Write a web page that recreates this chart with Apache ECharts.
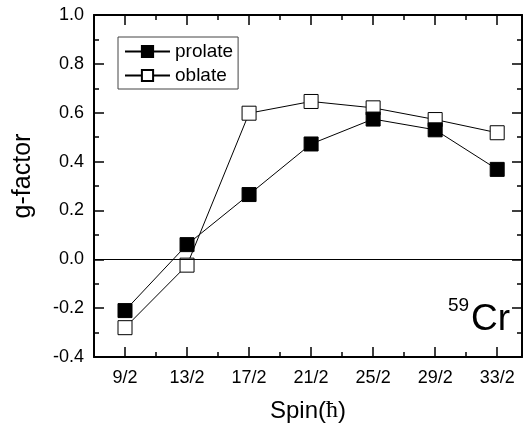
<!DOCTYPE html>
<html>
<head>
<meta charset="utf-8">
<script src="https://cdn.jsdelivr.net/npm/echarts@6/dist/echarts.min.js"></script>
<style>html,body{margin:0;padding:0;background:#fff}#c{width:523px;height:435px}</style>
</head>
<body>
<div id="c"></div>
<script>
const spinLabels = ['9/2', '13/2', '17/2', '21/2', '25/2', '29/2', '33/2'];
const prolate = [-0.21, 0.06, 0.265, 0.472, 0.574, 0.53, 0.368];
const oblate = [-0.28, -0.024, 0.598, 0.646, 0.62, 0.572, 0.518];
const yTicks = [-0.4, -0.2, 0.0, 0.2, 0.4, 0.6, 0.8, 1.0];

const spinVals = spinLabels.map(s => { const p = s.split('/'); return Number(p[0]) / Number(p[1]); });
const minorVals = spinVals.slice(0, -1).map(v => v + 1);
const labelOf = v => { const i = spinVals.findIndex(x => Math.abs(x - v) < 1e-6); return i >= 0 ? spinLabels[i] : ''; };

const FONT = '"Liberation Sans", Arial, sans-serif';
const black = '#000';

function xAx(pos, major, showLabel) {
  return {
    type: 'value', min: 3.5, max: 17.3, position: pos, gridIndex: 0,
    axisLine: { show: major, onZero: false, lineStyle: { color: black, width: 2 } },
    axisTick: { show: true, inside: true, length: major ? 10 : 5, customValues: major ? spinVals : minorVals, lineStyle: { color: black, width: 1.5 } },
    axisLabel: { show: showLabel, customValues: spinVals, formatter: v => labelOf(v), color: black, fontSize: 18, fontFamily: FONT, margin: 12 },
    splitLine: { show: false },
    name: showLabel ? '{a|Spin(}{b|ħ}{a|)}' : '',
    nameLocation: 'middle', nameGap: 42,
    nameTextStyle: { rich: { a: { fontSize: 24, fontFamily: FONT, color: black }, b: { fontSize: 24, fontFamily: '"Liberation Serif", "DejaVu Serif", serif', color: black } } }
  };
}

function yAx(pos, showLabel) {
  return {
    type: 'value', min: -0.4, max: 1.0, interval: 0.2, position: pos,
    axisLine: { show: true, onZero: false, lineStyle: { color: black, width: 2 } },
    axisTick: { show: true, inside: true, length: 10, lineStyle: { color: black, width: 1.5 } },
    minorTick: { show: true, splitNumber: 2, length: 5, lineStyle: { color: black, width: 1.5 } },
    axisLabel: { show: showLabel, formatter: v => yTicks.includes(Math.round(v * 10) / 10) ? v.toFixed(1) : '', color: black, fontSize: 18, fontFamily: FONT, margin: 10 },
    splitLine: { show: false },
    name: showLabel ? 'g-factor' : '',
    nameLocation: 'middle', nameGap: 58,
    nameTextStyle: { fontSize: 25, fontFamily: FONT, color: black, padding: [0, 0, 0, 20] }
  };
}

const chart = echarts.init(document.getElementById('c'), null, { renderer: 'canvas' });
chart.setOption({
  backgroundColor: '#fff',
  animation: false,
  grid: { left: 94, right: 1, top: 15, bottom: 78 },
  xAxis: [xAx('bottom', true, true), xAx('top', true, false), xAx('bottom', false, false), xAx('top', false, false)],
  yAxis: [yAx('left', true), yAx('right', false)],
  legend: {
    data: ['prolate', 'oblate'],
    orient: 'vertical', left: 118, top: 37,
    itemWidth: 45, itemHeight: 14, itemGap: 5,
    padding: [5, 5, 4, 6],
    borderColor: '#444', borderWidth: 1,
    textStyle: { fontSize: 19, fontFamily: FONT, color: black }
  },
  series: [
    {
      name: 'oblate', type: 'line', xAxisIndex: 0, yAxisIndex: 0,
      data: spinVals.map((x, i) => [x, oblate[i]]),
      symbol: 'rect', symbolSize: 14,
      lineStyle: { color: black, width: 1 },
      itemStyle: { color: '#fff', borderColor: black, borderWidth: 1 },
      z: 3,
      markLine: { silent: true, symbol: 'none', label: { show: false }, lineStyle: { color: black, width: 1, type: 'solid' }, data: [{ yAxis: 0 }] }
    },
    {
      name: 'prolate', type: 'line', xAxisIndex: 0, yAxisIndex: 0,
      data: spinVals.map((x, i) => [x, prolate[i]]),
      symbol: 'rect', symbolSize: 14,
      lineStyle: { color: black, width: 1 },
      itemStyle: { color: black, borderColor: black, borderWidth: 1 },
      z: 4
    }
  ],
  graphic: [
    { type: 'text', left: 448, top: 296, style: { text: '59', fontSize: 19, fontFamily: FONT, fill: black } },
    { type: 'text', left: 471, top: 301, style: { text: 'Cr', fontSize: 37, fontFamily: FONT, fill: black } }
  ]
});
</script>
</body>
</html>
